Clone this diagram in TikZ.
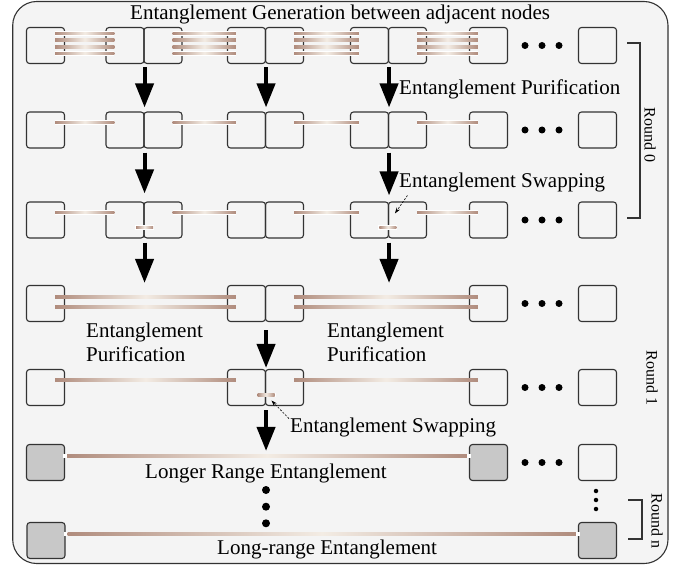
\documentclass[tikz,border=0pt]{standalone}
\usepackage{fontspec}
\setmainfont{Liberation Serif}
\usetikzlibrary{calc,arrows.meta}
\definecolor{bgc}{HTML}{F4F4F4}
\definecolor{edgec}{HTML}{333333}
\definecolor{entB}{HTML}{B08C7D}
\definecolor{entW}{HTML}{F3ECE4}
\definecolor{grayfill}{HTML}{C8C8C8}
\tikzset{
 qbox/.style={draw=edgec, line width=1.1pt, rounded corners=3pt, minimum width=38pt, minimum height=36pt, inner sep=0pt},
 gbox/.style={qbox, fill=grayfill},
 entsh/.style={left color=entB, right color=entB, middle color=entW},
 bigarrow/.style={line width=4pt, -{Triangle[width=18pt,length=24pt]}},
 thinarrow/.style={line width=0.6pt, dash pattern=on 2pt off 1.5pt, -{Stealth[length=6pt,width=4pt]}},
 lbl/.style={font=\fontsize{21}{24}\selectfont, inner sep=0pt},
 rlbl/.style={font=\fontsize{16}{18}\selectfont, inner sep=0pt, rotate=-90},
 hdot/.style={circle, fill=black, inner sep=0pt, minimum size=7pt},
 sdot/.style={circle, fill=black, inner sep=0pt, minimum size=4.5pt},
 vdot/.style={circle, fill=black, inner sep=0pt, minimum size=8pt},
 bracket/.style={line width=1.1pt, draw=edgec}
}
% entanglement line between box #1 and box #2, at #3 below the box top
\newcommand\entl[3]{%
 \coordinate (s) at ($(#1.north east)+(-10,#3)$);
 \coordinate (t) at ($(#2.north west)+(9,#3)$);
 \fill[white] ($(s)+(0,-2.3)$) rectangle ($(t)+(0,2.3)$);
 \shade[entsh] ($(s)+(0,-1.2)$) rectangle ($(t)+(0,1.2)$);}
\newcommand\entlong[3]{%
 \coordinate (s) at ($(#1.north east)+(0,#3)$);
 \coordinate (t) at ($(#2.north west)+(0,#3)$);
 \fill[white] ($(s)+(-2,-2.3)$) rectangle ($(t)+(2,2.3)$);
 \shade[entsh] ($(s)+(2,-1.2)$) rectangle ($(t)+(-2,1.2)$);}
\newcommand\swp[1]{%
 \coordinate (sw) at ($#1+(0,26)$);
 \fill[white] ($(sw)+(-9.5,-2.3)$) rectangle ($(sw)+(9.5,2.3)$);
 \shade[entsh] ($(sw)+(-8.5,-1.2)$) rectangle ($(sw)+(8.5,1.2)$);}
\begin{document}
\begin{tikzpicture}[x=1pt,y=-1pt]
\useasboundingbox (0,0) rectangle (685,569);
\draw[line width=1.1pt, draw=edgec, fill=bgc, rounded corners=24pt] (12.7,1.5) rectangle (668,563.5);
% rows 1-3
\foreach \r/\y in {1/45.5,2/130,3/220}{
  \foreach \n/\x in {a/45.5,b/125,c/163,d/246.5,e/284.5,f/369.5,g/407.5,h/488.5,l/597.5}
    \node[qbox] (r\r\n) at (\x,\y) {};
  \foreach \k/\x in {1/525,2/542,3/559} \node[hdot] (r\r dot\k) at (\x,\y) {};
}
% rows 4-5
\foreach \r/\y in {4/303.5,5/387.5}{
  \foreach \n/\x in {a/45.5,d/246.5,e/284.5,h/488.5,l/597.5}
    \node[qbox] (r\r\n) at (\x,\y) {};
  \foreach \k/\x in {1/525,2/542,3/559} \node[hdot] (r\r dot\k) at (\x,\y) {};
}
% row 6
\node[gbox] (r6a) at (45.5,462.5) {};
\node[gbox] (r6h) at (488.5,462.5) {};
\node[qbox] (r6l) at (597.5,462.5) {};
\foreach \k/\x in {1/525,2/542,3/559} \node[hdot] (r6dot\k) at (\x,462.5) {};
% row 7
\node[gbox] (r7a) at (46,540.5) {};
\node[gbox] (r7l) at (597.5,540.5) {};
% entanglement lines
\foreach \o in {6.5,13.2,19.9,26.6}{
  \entl{r1a}{r1b}{\o}\entl{r1c}{r1d}{\o}\entl{r1e}{r1f}{\o}\entl{r1g}{r1h}{\o}}
\foreach \r in {2,3}{
  \entl{r\r a}{r\r b}{11}\entl{r\r c}{r\r d}{11}\entl{r\r e}{r\r f}{11}\entl{r\r g}{r\r h}{11}}
\swp{(r3b.north east)}
\swp{(r3g.north west)}
\foreach \o in {12,22}{\entl{r4a}{r4d}{\o}\entl{r4e}{r4h}{\o}}
\entl{r5a}{r5d}{11}\entl{r5e}{r5h}{11}
\swp{(r5d.north east)}
\entlong{r6a}{r6h}{12}
\entlong{r7a}{r7l}{12}
% big arrows
\draw[bigarrow] ($(r1b.south east)+(0,3)$) -- ($(r2b.north east)+(0,-4)$);
\draw[bigarrow] ($(r1d.south east)+(0,3)$) -- ($(r2d.north east)+(0,-4)$);
\draw[bigarrow] ($(r1f.south east)+(0,3)$) -- ($(r2f.north east)+(0,-4)$);
\draw[bigarrow] ($(r2b.south east)+(0,4)$) -- ($(r3b.north east)+(0,-8)$);
\draw[bigarrow] ($(r2f.south east)+(0,4)$) -- ($(r3f.north east)+(0,-6)$);
\draw[bigarrow] ($(r3b.south east)+(0,4)$) -- ($(r3b.south east |- r4a.north)+(0,-2)$);
\draw[bigarrow] ($(r3f.south east)+(0,4)$) -- ($(r3f.south east |- r4a.north)+(0,-2)$);
\draw[bigarrow] ($(r4d.south east)+(0,8)$) -- ($(r5d.north east)+(0,-1)$);
\draw[bigarrow] ($(r5d.south east)+(0,4)$) -- ($(r5d.south east |- r6a.north)+(0,7)$);
% dashed pointers
\draw[thinarrow] ($(r3g.north west)+(19.5,-6)$) -- ($(r3g.north west)+(7,12)$);
\draw[thinarrow] ($(r5e.south west)+(24,12.5)$) -- ($(r5e.south west)+(6.5,-5.5)$);
% vertical dots
\node[vdot] (vd1) at (266,490) {};
\node[vdot] (vd2) at (266,506.7) {};
\node[vdot] (vd3) at (266,523.3) {};
\node[sdot] (sd1) at (596,491) {};
\node[sdot] (sd2) at (596,500) {};
\node[sdot] (sd3) at (596,509) {};
% labels
\node[lbl, anchor=base west] (title) at (130,20) {Entanglement Generation between adjacent nodes};
\node[lbl, anchor=base west] (pur0) at (399,95) {Entanglement Purification};
\node[lbl, anchor=base west] (swp0) at (399,188) {Entanglement Swapping};
\node[lbl, anchor=north west, align=left] (pur1) at (86,323) {Entanglement\\Purification};
\node[lbl, anchor=north west, align=left] (pur2) at (327,323) {Entanglement\\Purification};
\node[lbl, anchor=base west] (swp1) at (290,432) {Entanglement Swapping};
\node[lbl, anchor=base west] (longer) at (145,478) {Longer Range Entanglement};
\node[lbl, anchor=base west] (longr) at (217,554) {Long-range Entanglement};
% rounds
\draw[bracket] (627,43) -- (640,43) -- (640,218) -- (627,218);
\draw[bracket] (628,500) -- (642,500) -- (642,539) -- (628,539);
\node[rlbl] (rd0) at (650,135) {Round 0};
\node[rlbl] (rd1) at (652,378) {Round 1};
\node[rlbl] (rdn) at (657,521) {Round n};
\end{tikzpicture}
\end{document}
